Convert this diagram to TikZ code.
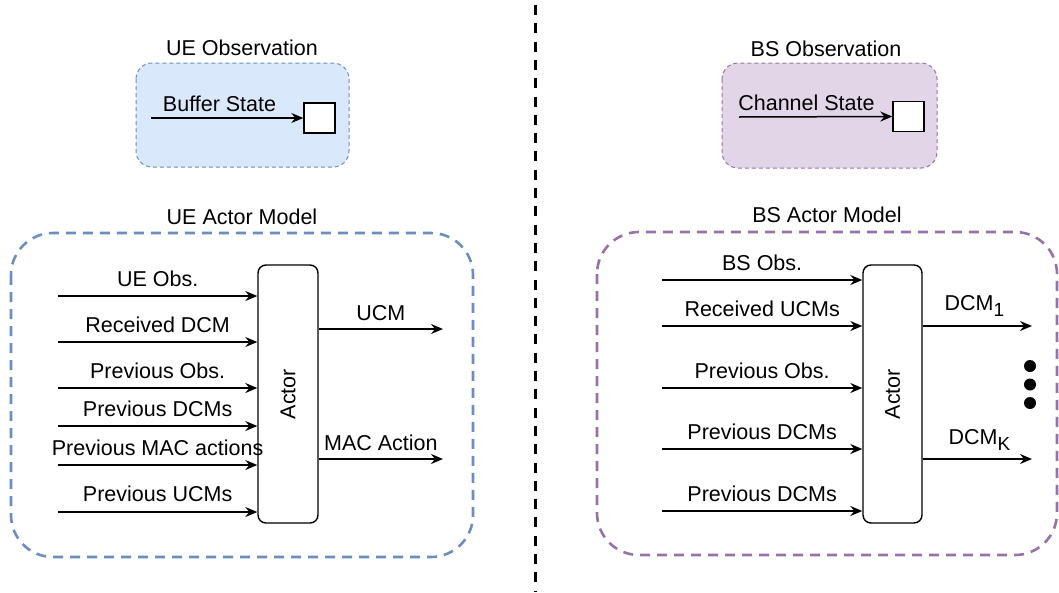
\documentclass[tikz,border=0pt]{standalone}
\usepackage{fontspec}
\setmainfont{Liberation Sans}
\usetikzlibrary{arrows.meta,calc}
\definecolor{uefill}{HTML}{DAE8FC}
\definecolor{uedraw}{HTML}{6C8EBF}
\definecolor{bsfill}{HTML}{E1D5E7}
\definecolor{bsdraw}{HTML}{9673A6}
\tikzset{
  every node/.style={font=\fontsize{21.5}{25}\selectfont},
  arr/.style={line width=1.5pt, -{Stealth[length=12pt,width=10pt,inset=4pt]}},
  lab/.style={anchor=base, inner sep=0pt},
  obsbox/.style={line width=1pt, dash pattern=on 4pt off 3pt, rounded corners=16pt},
  modelbox/.style={line width=2.6pt, dash pattern=on 10pt off 7pt, rounded corners=42pt},
  actorbox/.style={draw, line width=1.4pt, rounded corners=8pt, fill=white, minimum width=60pt, minimum height=258pt, inner sep=0pt},
  sq/.style={draw, line width=1.4pt, fill=white, minimum width=31pt, minimum height=30pt, inner sep=0pt},
}
\begin{document}
\begin{tikzpicture}[x=1pt,y=-1pt]
\useasboundingbox (0,0) rectangle (1059,592);
% divider
\draw[line width=3pt, dash pattern=on 10pt off 8.3pt] (535,5) -- (535,592);

% ---------- UE side ----------
\draw[obsbox, draw=uedraw, fill=uefill] (136,63) rectangle (349,167);
\node[lab] (uet) at (242,55) {UE Observation};
\node[sq] (uesq) at (319.5,118) {};
\coordinate (uebs) at (151,118);
\draw[arr] (uebs) -- (uesq.west) node[lab, pos=0.45, yshift=7pt] {Buffer State};

\draw[modelbox, draw=uedraw] (11,233) rectangle (473,557);
\node[lab] (uemt) at (242,224) {UE Actor Model};
\node[actorbox] (ua) at (288,394) {\rotatebox{90}{Actor}};

\coordinate (ui1) at (58,296);
\coordinate (ui2) at (58,342);
\coordinate (ui3) at (58,388);
\coordinate (ui4) at (58,426);
\coordinate (ui5) at (58,465);
\coordinate (ui6) at (58,512);
\draw[arr] (ui1) -- (ui1 -| ua.west) node[lab, midway, yshift=9.5pt] {UE Obs.};
\draw[arr] (ui2) -- (ui2 -| ua.west) node[lab, midway, yshift=10pt] {Received DCM};
\draw[arr] (ui3) -- (ui3 -| ua.west) node[lab, midway, yshift=9.5pt] {Previous Obs.};
\draw[arr] (ui4) -- (ui4 -| ua.west) node[lab, midway, yshift=9.5pt] {Previous DCMs};
\draw[arr] (ui5) -- (ui5 -| ua.west) node[lab, midway, yshift=9.5pt] {Previous MAC actions};
\draw[arr] (ui6) -- (ui6 -| ua.west) node[lab, midway, yshift=11pt] {Previous UCMs};

\coordinate (uo1) at (443,329);
\coordinate (uo2) at (443,459);
\draw[arr] (uo1 -| ua.east) -- (uo1) node[lab, midway, yshift=8.5pt] {UCM};
\draw[arr] (uo2 -| ua.east) -- (uo2) node[lab, midway, yshift=9pt] {MAC Action};

% ---------- BS side ----------
\draw[obsbox, draw=bsdraw, fill=bsfill] (722,63) rectangle (937,168);
\node[lab] (bst) at (826,56) {BS Observation};
\node[sq] (bssq) at (908.5,116.5) {};
\coordinate (bscs) at (739,117);
\draw[arr] (bscs) -- (bssq.west) node[lab, pos=0.44, yshift=6.5pt] {Channel State};

\draw[modelbox, draw=bsdraw] (597,232) rectangle (1057,555);
\node[lab] (bsmt) at (827,222) {BS Actor Model};
\node[actorbox, minimum width=59pt] (ba) at (892.5,394) {\rotatebox{90}{Actor}};

\coordinate (bi1) at (662,280);
\coordinate (bi2) at (662,326);
\coordinate (bi3) at (662,388);
\coordinate (bi4) at (662,449);
\coordinate (bi5) at (662,511);
\draw[arr] (bi1) -- (bi1 -| ba.west) node[lab, midway, yshift=9.5pt] {BS Obs.};
\draw[arr] (bi2) -- (bi2 -| ba.west) node[lab, midway, yshift=9.5pt] {Received UCMs};
\draw[arr] (bi3) -- (bi3 -| ba.west) node[lab, midway, yshift=9.5pt] {Previous Obs.};
\draw[arr] (bi4) -- (bi4 -| ba.west) node[lab, midway, yshift=9.5pt] {Previous DCMs};
\draw[arr] (bi5) -- (bi5 -| ba.west) node[lab, midway, yshift=9.5pt] {Previous DCMs};

\coordinate (bo1) at (1032,326);
\coordinate (bo2) at (1032,459);
\draw[arr] (bo1 -| ba.east) -- (bo1) node[lab, midway, xshift=-3pt, yshift=16pt] {DCM\raisebox{-0.32em}{\fontsize{19}{19}\selectfont 1}};
\draw[arr] (bo2 -| ba.east) -- (bo2) node[lab, midway, xshift=2pt, yshift=15pt] {DCM\raisebox{-0.32em}{\fontsize{19}{19}\selectfont K}};

\fill (1030,366) circle (6pt);
\fill (1030,384.5) circle (6pt);
\fill (1030,403) circle (6pt);
\end{tikzpicture}
\end{document}
